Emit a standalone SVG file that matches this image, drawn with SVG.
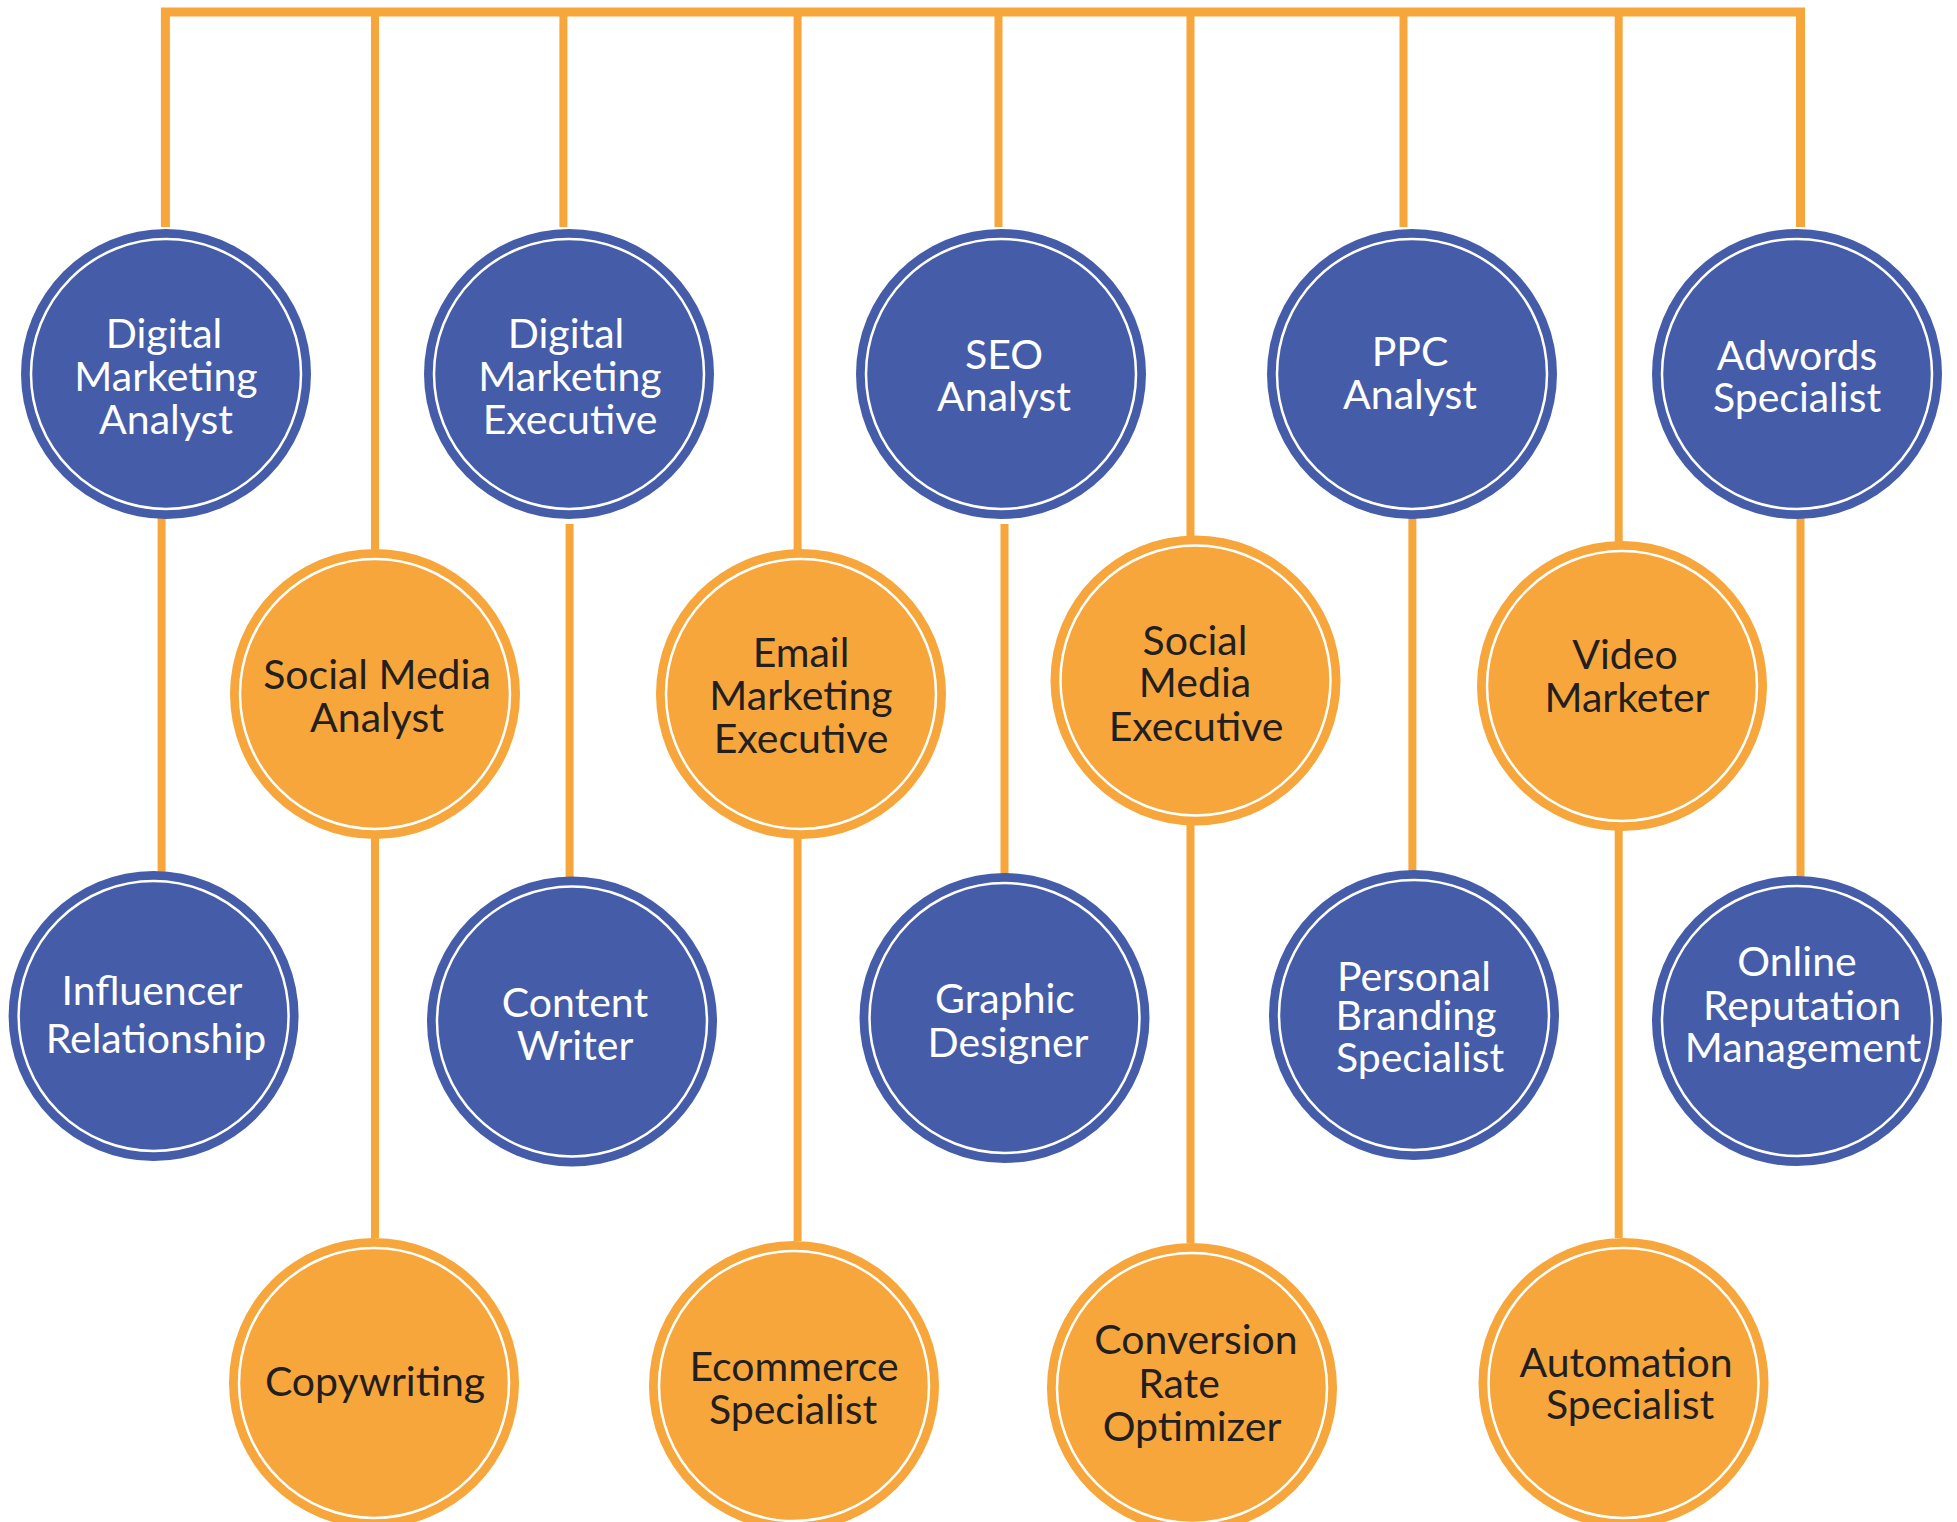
<svg xmlns="http://www.w3.org/2000/svg" width="1957" height="1522" viewBox="0 0 1957 1522">
<style>
.c{stroke:none}
.b{fill:#455CA9}
.o{fill:#F6A63B}
.ring{fill:none;stroke:#FFFFFF;stroke-width:2.5}
.t{font-family:Lato,"Noto Sans",sans-serif;font-size:41px;text-anchor:middle}
.tw{fill:#FFFFFF}
.tk{fill:#231F20}
.ln{fill:none;stroke:#F6A63B;stroke-width:8;stroke-linejoin:miter;stroke-linecap:butt}
</style>
<rect width="1957" height="1522" fill="#FFFFFF"/>
<g id="connectors" class="ln">
<path d="M165.4,227 V12 H1800.5 V227" stroke-width="9"/>
<path d="M375,12 V550"/>
<path d="M563.4,12 V227"/>
<path d="M797.6,12 V550"/>
<path d="M998.5,12 V227"/>
<path d="M1190.5,12 V537"/>
<path d="M1403.5,12 V227"/>
<path d="M1618.7,12 V542"/>
<path d="M161.6,512 V873"/>
<path d="M375,838 V1238"/>
<path d="M569.6,524 V878"/>
<path d="M797.6,838 V1241"/>
<path d="M1004.5,524 V875"/>
<path d="M1190.5,824 V1243"/>
<path d="M1412.4,512 V872"/>
<path d="M1618.7,829 V1238"/>
<path d="M1800.5,517 V877"/>
</g>
<g id="n-dma"><circle class="b" cx="166" cy="374" r="145"/><circle class="ring" cx="166" cy="374" r="135"/>
<text class="t tw"><tspan x="164" y="348">Digital</tspan><tspan x="166" y="391">Marketing</tspan><tspan x="166" y="434">Analyst</tspan></text></g>
<g id="n-dme"><circle class="b" cx="569" cy="374" r="145"/><circle class="ring" cx="569" cy="374" r="135"/>
<text class="t tw"><tspan x="566" y="348">Digital</tspan><tspan x="570" y="391">Marketing</tspan><tspan x="570" y="434">Executive</tspan></text></g>
<g id="n-seo"><circle class="b" cx="1001" cy="374" r="145"/><circle class="ring" cx="1001" cy="374" r="135"/>
<text class="t tw"><tspan x="1004" y="369">SEO</tspan><tspan x="1004" y="411">Analyst</tspan></text></g>
<g id="n-ppc"><circle class="b" cx="1412" cy="374" r="145"/><circle class="ring" cx="1412" cy="374" r="135"/>
<text class="t tw"><tspan x="1410" y="366">PPC</tspan><tspan x="1410" y="409">Analyst</tspan></text></g>
<g id="n-adwords"><circle class="b" cx="1797" cy="374" r="145"/><circle class="ring" cx="1797" cy="374" r="135"/>
<text class="t tw"><tspan x="1797" y="370">Adwords</tspan><tspan x="1797" y="412">Specialist</tspan></text></g>
<g id="n-influencer"><circle class="b" cx="153.6" cy="1016" r="145"/><circle class="ring" cx="153.6" cy="1016" r="135"/>
<text class="t tw"><tspan x="152" y="1005">Influencer</tspan><tspan x="156" y="1053">Relationship</tspan></text></g>
<g id="n-content"><circle class="b" cx="572" cy="1021.5" r="145"/><circle class="ring" cx="572" cy="1021.5" r="135"/>
<text class="t tw"><tspan x="575" y="1017">Content</tspan><tspan x="575" y="1060">Writer</tspan></text></g>
<g id="n-graphic"><circle class="b" cx="1004.5" cy="1018" r="145"/><circle class="ring" cx="1004.5" cy="1018" r="135"/>
<text class="t tw"><tspan x="1005" y="1013">Graphic</tspan><tspan x="1008" y="1057">Designer</tspan></text></g>
<g id="n-personal"><circle class="b" cx="1414" cy="1015" r="145"/><circle class="ring" cx="1414" cy="1015" r="135"/>
<text class="t tw"><tspan x="1414" y="991">Personal</tspan><tspan x="1416" y="1030">Branding</tspan><tspan x="1420" y="1072">Specialist</tspan></text></g>
<g id="n-online"><circle class="b" cx="1797" cy="1021" r="145"/><circle class="ring" cx="1797" cy="1021" r="135"/>
<text class="t tw"><tspan x="1797" y="976">Online</tspan><tspan x="1802" y="1020">Reputation</tspan><tspan x="1803" y="1062">Management</tspan></text></g>
<g id="n-sma"><circle class="o" cx="375" cy="694" r="145"/><circle class="ring" cx="375" cy="694" r="135"/>
<text class="t tk"><tspan x="377" y="689">Social Media</tspan><tspan x="377" y="732">Analyst</tspan></text></g>
<g id="n-eme"><circle class="o" cx="801" cy="694" r="145"/><circle class="ring" cx="801" cy="694" r="135"/>
<text class="t tk"><tspan x="801" y="667">Email</tspan><tspan x="801" y="710">Marketing</tspan><tspan x="801" y="753">Executive</tspan></text></g>
<g id="n-sme"><circle class="o" cx="1195.5" cy="680.5" r="145"/><circle class="ring" cx="1195.5" cy="680.5" r="135"/>
<text class="t tk"><tspan x="1195" y="655">Social</tspan><tspan x="1195" y="697">Media</tspan><tspan x="1196" y="741">Executive</tspan></text></g>
<g id="n-video"><circle class="o" cx="1622" cy="686" r="145"/><circle class="ring" cx="1622" cy="686" r="135"/>
<text class="t tk"><tspan x="1625" y="669">Video</tspan><tspan x="1627" y="712">Marketer</tspan></text></g>
<g id="n-copy"><circle class="o" cx="374" cy="1383" r="145"/><circle class="ring" cx="374" cy="1383" r="135"/>
<text class="t tk"><tspan x="375" y="1396">Copywriting</tspan></text></g>
<g id="n-ecom"><circle class="o" cx="794" cy="1386" r="145"/><circle class="ring" cx="794" cy="1386" r="135"/>
<text class="t tk"><tspan x="794" y="1381">Ecommerce</tspan><tspan x="793" y="1424">Specialist</tspan></text></g>
<g id="n-cro"><circle class="o" cx="1192" cy="1388" r="145"/><circle class="ring" cx="1192" cy="1388" r="135"/>
<text class="t tk"><tspan x="1196" y="1354">Conversion</tspan><tspan x="1179" y="1398">Rate</tspan><tspan x="1192" y="1441">Optimizer</tspan></text></g>
<g id="n-auto"><circle class="o" cx="1623.5" cy="1383" r="145"/><circle class="ring" cx="1623.5" cy="1383" r="135"/>
<text class="t tk"><tspan x="1626" y="1377">Automation</tspan><tspan x="1630" y="1419">Specialist</tspan></text></g>
</svg>
